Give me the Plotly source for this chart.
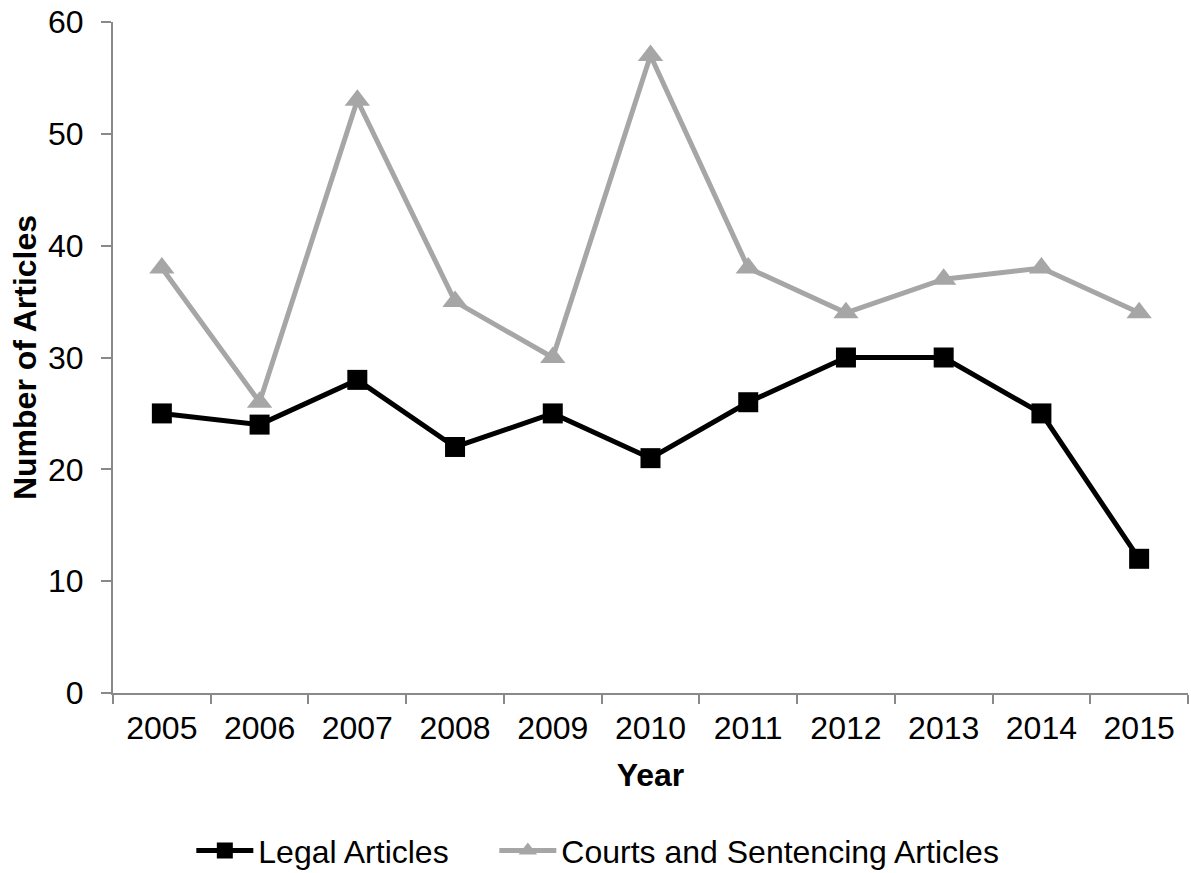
import plotly.graph_objects as go

years = ["2005", "2006", "2007", "2008", "2009", "2010", "2011", "2012", "2013", "2014", "2015"]
legal = [25, 24, 28, 22, 25, 21, 26, 30, 30, 25, 12]
courts = [38, 26, 53, 35, 30, 57, 38, 34, 37, 38, 34]

FONT = "Liberation Sans, Arial, sans-serif"
AXIS_COLOR = "#898989"

fig = go.Figure()
fig.add_trace(go.Scatter(
    x=years, y=legal, name="Legal Articles", mode="lines+markers",
    line=dict(color="#000000", width=5),
    marker=dict(symbol="square", size=20, color="#000000"),
    legendwidth=231,
))
fig.add_trace(go.Scatter(
    x=years, y=courts, name="Courts and Sentencing Articles", mode="lines+markers",
    line=dict(color="#A6A6A6", width=5),
    marker=dict(symbol="triangle-up", size=22, color="#A6A6A6"),
))

fig.update_layout(
    width=1191, height=873,
    margin=dict(l=113, r=3, t=22, b=180, autoexpand=False),
    paper_bgcolor="white", plot_bgcolor="white",
    font=dict(family=FONT, size=32, color="#000000"),
    showlegend=True,
    legend=dict(orientation="h", x=0.451, xanchor="center", y=-0.235, yanchor="middle",
                font=dict(size=32), itemwidth=57, traceorder="normal"),
    xaxis=dict(
        type="category", range=[-0.5, 10.5], showgrid=False, zeroline=False,
        showline=True, linecolor=AXIS_COLOR, linewidth=2,
        ticks="outside", ticklen=9, tickwidth=2, tickcolor=AXIS_COLOR,
        tickson="boundaries", ticklabelstandoff=6,
        title=dict(text="<b>Year</b>", standoff=18, font=dict(size=32)),
        automargin=False,
    ),
    yaxis=dict(
        range=[0, 60], dtick=10, showgrid=False, zeroline=False,
        showline=True, linecolor=AXIS_COLOR, linewidth=2,
        ticks="outside", ticklen=10, tickwidth=2, tickcolor=AXIS_COLOR,
        ticklabelstandoff=11,
        title=dict(text="<b>Number of Articles</b>", standoff=2, font=dict(size=32)),
        automargin=False,
    ),
)

fig.write_html("out.html")
